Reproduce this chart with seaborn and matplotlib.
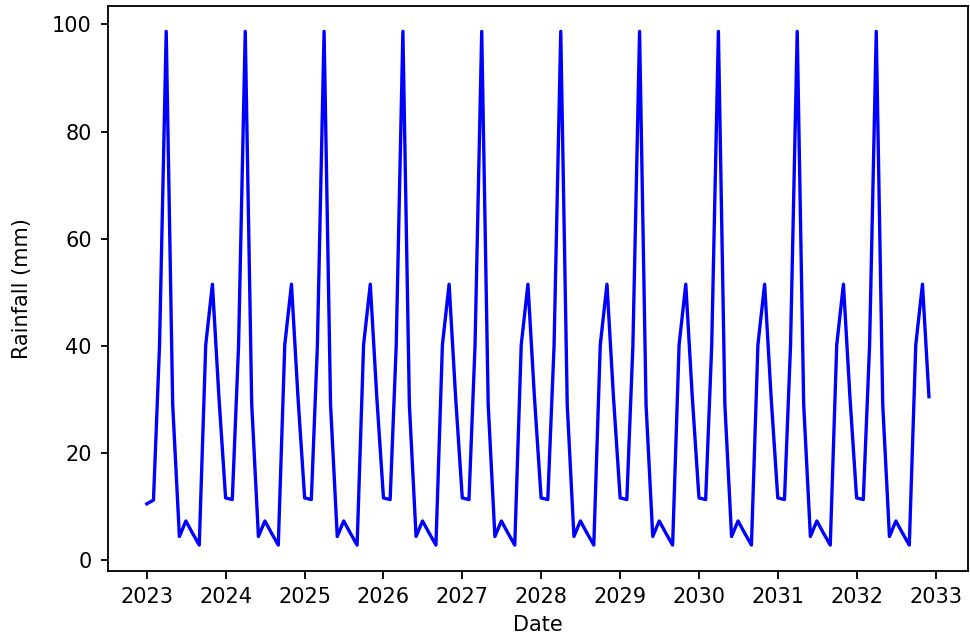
import pandas as pd
import numpy as np
import seaborn as sns
import matplotlib.pyplot as plt
import matplotlib.dates as mdates

# monthly rainfall, one row per year (Jan..Dec)
years = [2023, 2024, 2025, 2026, 2027, 2028, 2029, 2030, 2031, 2032]
rain_2023 = [10.5, 11.2, 40.0, 98.7, 29.0, 4.4, 7.3, 5.0, 2.8, 40.2, 51.5, 30.5]
rain_2024 = [11.6, 11.3, 40.0, 98.7, 29.0, 4.4, 7.3, 5.0, 2.8, 40.2, 51.5, 30.5]
rain_2025 = [11.6, 11.3, 40.0, 98.7, 29.0, 4.4, 7.3, 5.0, 2.8, 40.2, 51.5, 30.5]
rain_2026 = [11.6, 11.3, 40.0, 98.7, 29.0, 4.4, 7.3, 5.0, 2.8, 40.2, 51.5, 30.5]
rain_2027 = [11.6, 11.3, 40.0, 98.7, 29.0, 4.4, 7.3, 5.0, 2.8, 40.2, 51.5, 30.5]
rain_2028 = [11.6, 11.3, 40.0, 98.7, 29.0, 4.4, 7.3, 5.0, 2.8, 40.2, 51.5, 30.5]
rain_2029 = [11.6, 11.3, 40.0, 98.7, 29.0, 4.4, 7.3, 5.0, 2.8, 40.2, 51.5, 30.5]
rain_2030 = [11.6, 11.3, 40.0, 98.7, 29.0, 4.4, 7.3, 5.0, 2.8, 40.2, 51.5, 30.5]
rain_2031 = [11.6, 11.3, 40.0, 98.7, 29.0, 4.4, 7.3, 5.0, 2.8, 40.2, 51.5, 30.5]
rain_2032 = [11.6, 11.3, 40.0, 98.7, 29.0, 4.4, 7.3, 5.0, 2.8, 40.2, 51.5, 30.5]

rainfall = (rain_2023 + rain_2024 + rain_2025 + rain_2026 + rain_2027
            + rain_2028 + rain_2029 + rain_2030 + rain_2031 + rain_2032)
dates = pd.date_range('2023-01-01', periods=len(rainfall), freq='MS')

df = pd.DataFrame({'Date': dates, 'Rainfall (mm)': rainfall})

plt.rcParams['font.size'] = 12.5
plt.rcParams['axes.linewidth'] = 1.1

fig, ax = plt.subplots(figsize=(970 / 120, 637 / 120), dpi=120)
fig.subplots_adjust(left=0.111, right=0.998, top=0.991, bottom=0.104)

sns.lineplot(x='Date', y='Rainfall (mm)', data=df, color='blue', linewidth=2.0, ax=ax)

ax.xaxis.set_major_locator(mdates.YearLocator())
ax.xaxis.set_major_formatter(mdates.DateFormatter('%Y'))
ax.tick_params(length=4.5, width=1.1, pad=5, labelsize=12.5)
ax.set_xlabel('Date', fontsize=12.5, labelpad=5)
ax.set_ylabel('Rainfall (mm)', fontsize=12.5, labelpad=12)

plt.savefig('out.png', dpi=120)
